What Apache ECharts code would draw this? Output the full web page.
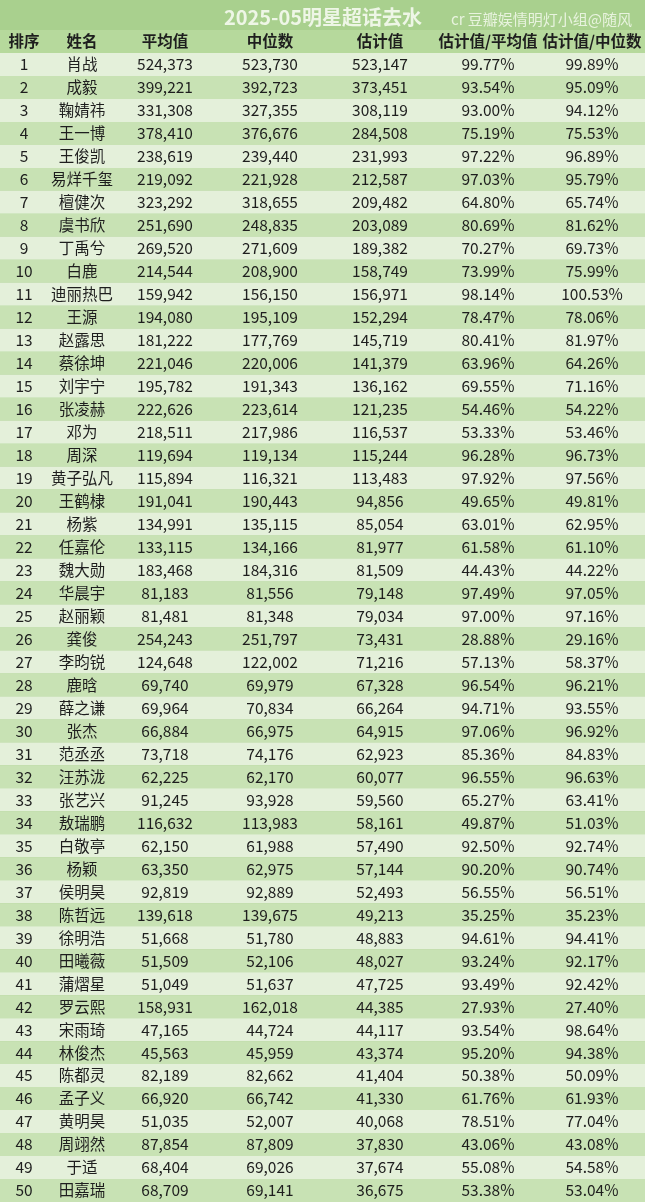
<!DOCTYPE html>
<html><head><meta charset="utf-8">
<script src="https://cdn.jsdelivr.net/npm/echarts@6/dist/echarts.min.js"></script>
<style>html,body{margin:0;padding:0;background:#a9d08e}#chart{width:645px;height:1202px}</style>
</head><body><div id="chart"></div>
<script>
const headers = ['排序', '姓名', '平均值', '中位数', '估计值', '估计值/平均值', '估计值/中位数'];
const names = ['肖战','成毅','鞠婧祎','王一博','王俊凯','易烊千玺','檀健次','虞书欣','丁禹兮','白鹿','迪丽热巴','王源','赵露思','蔡徐坤','刘宇宁','张凌赫','邓为','周深','黄子弘凡','王鹤棣','杨紫','任嘉伦','魏大勋','华晨宇','赵丽颖','龚俊','李昀锐','鹿晗','薛之谦','张杰','范丞丞','汪苏泷','张艺兴','敖瑞鹏','白敬亭','杨颖','侯明昊','陈哲远','徐明浩','田曦薇','蒲熠星','罗云熙','宋雨琦','林俊杰','陈都灵','孟子义','黄明昊','周翊然','于适','田嘉瑞'];
const meanVals = [524373,399221,331308,378410,238619,219092,323292,251690,269520,214544,159942,194080,181222,221046,195782,222626,218511,119694,115894,191041,134991,133115,183468,81183,81481,254243,124648,69740,69964,66884,73718,62225,91245,116632,62150,63350,92819,139618,51668,51509,51049,158931,47165,45563,82189,66920,51035,87854,68404,68709];
const medianVals = [523730,392723,327355,376676,239440,221928,318655,248835,271609,208900,156150,195109,177769,220006,191343,223614,217986,119134,116321,190443,135115,134166,184316,81556,81348,251797,122002,69979,70834,66975,74176,62170,93928,113983,61988,62975,92889,139675,51780,52106,51637,162018,44724,45959,82662,66742,52007,87809,69026,69141];
const estVals = [523147,373451,308119,284508,231993,212587,209482,203089,189382,158749,156971,152294,145719,141379,136162,121235,116537,115244,113483,94856,85054,81977,81509,79148,79034,73431,71216,67328,66264,64915,62923,60077,59560,58161,57490,57144,52493,49213,48883,48027,47725,44385,44117,43374,41404,41330,40068,37830,37674,36675];
const ratioMean = ['99.77%','93.54%','93.00%','75.19%','97.22%','97.03%','64.80%','80.69%','70.27%','73.99%','98.14%','78.47%','80.41%','63.96%','69.55%','54.46%','53.33%','96.28%','97.92%','49.65%','63.01%','61.58%','44.43%','97.49%','97.00%','28.88%','57.13%','96.54%','94.71%','97.06%','85.36%','96.55%','65.27%','49.87%','92.50%','90.20%','56.55%','35.25%','94.61%','93.24%','93.49%','27.93%','93.54%','95.20%','50.38%','61.76%','78.51%','43.06%','55.08%','53.38%'];
const ratioMedian = ['99.89%','95.09%','94.12%','75.53%','96.89%','95.79%','65.74%','81.62%','69.73%','75.99%','100.53%','78.06%','81.97%','64.26%','71.16%','54.22%','53.46%','96.73%','97.56%','49.81%','62.95%','61.10%','44.22%','97.05%','97.16%','29.16%','58.37%','96.21%','93.55%','96.92%','84.83%','96.63%','63.41%','51.03%','92.74%','90.74%','56.51%','35.23%','94.41%','92.17%','92.42%','27.40%','98.64%','94.38%','50.09%','61.93%','77.04%','43.08%','54.58%','53.04%'];

const colX = [24, 82, 165, 270, 380, 488, 592];
const fmt = v => v.toLocaleString('en-US');
const rowLabels = ['h'].concat(names.map((n, i) => String(i + 1)));
const rows = [{ value: [0, 0], cells: headers, header: true }];
names.forEach((n, i) => {
	rows.push({ value: [0, i + 1], cells: [String(i + 1), n, fmt(meanVals[i]), fmt(medianVals[i]), fmt(estVals[i]), ratioMean[i], ratioMedian[i]] });
});

const chart = echarts.init(document.getElementById('chart'));
chart.setOption({
	backgroundColor: '#a9d08e',
	animation: false,
	title: [
		{ text: '2025-05明星超话去水', left: 318, top: 2, textAlign: 'center', textStyle: { color: '#eef6e6', fontSize: 20, fontWeight: 'bold', fontFamily: 'Noto Sans CJK SC' } },
		{ text: 'cr 豆瓣娱情明灯小组@随风', right: 8, top: 7, textStyle: { color: '#e8f3de', fontSize: 15, fontWeight: 'normal', fontFamily: 'Noto Sans CJK SC' } },
	],
	grid: { left: 0, right: 0, top: 30, bottom: 0 },
	xAxis: { type: 'value', min: 0, max: 645, show: false },
	yAxis: { type: 'category', data: rowLabels, inverse: true, show: false },
	series: [{
		type: 'custom',
		data: rows,
		renderItem: (params, api) => {
			const idx = api.value(1);
			const item = rows[idx];
			const c = api.coord([0, idx]);
			const h = api.size([0, 1])[1];
			const w = api.size([645, 0])[0];
			const header = !!item.header;
			const fill = header ? '#b6d99c' : (idx % 2 === 1 ? '#e4f0da' : '#c8e2b4');
			const children = [{ type: 'rect', shape: { x: 0, y: c[1] - h / 2, width: w, height: h }, style: { fill: fill } }];
			item.cells.forEach((t, j) => {
				children.push({
					type: 'text',
					style: {
						text: t, x: colX[j], y: c[1], align: 'center', verticalAlign: 'middle',
						fill: '#1e1e1e', fontSize: header ? 15.5 : 15.5, fontWeight: header ? 'bold' : 'normal',
						fontFamily: 'Noto Sans CJK SC',
					},
				});
			});
			return { type: 'group', children: children };
		},
	}],
});
</script></body></html>
